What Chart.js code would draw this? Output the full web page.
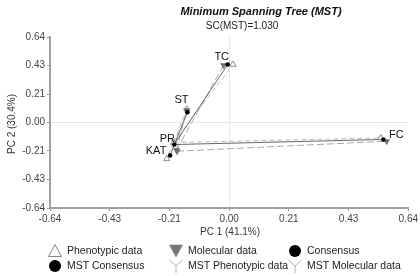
<!DOCTYPE html>
<html lang="en">
<head>
<meta charset="UTF-8">
<title>MST</title>
<script src="https://cdn.jsdelivr.net/npm/chart.js"></script>
<style>
    body { margin: 0; background: #fff; font-family: "Liberation Sans", Arial, sans-serif; }
    .wrap { position: relative; width: 420px; height: 276px; }
    canvas { position: absolute; left: 0; top: 0; }
    .leg { position: absolute; font-size: 10.5px; color: #222; line-height: 13px; white-space: nowrap; }
    #legenda svg { position: absolute; }
</style>
</head>
<body>
<div class="wrap">
    <canvas id="grafico" width="420" height="276"></canvas>
    <div id="legenda"></div>
</div>

<script>
    // traits
    const categorias = ['TC', 'ST', 'PR', 'KAT', 'FC'];

    const fenotipicoX = [0.014, -0.151, -0.199, -0.223, 0.542];
    const fenotipicoY = [0.434, 0.100, -0.150, -0.272, -0.115];

    const molecularX = [-0.020, -0.152, -0.188, -0.186, 0.563];
    const molecularY = [0.429, 0.092, -0.206, -0.215, -0.140];

    const consensoX = [-0.005, -0.149, -0.196, -0.211, 0.551];
    const consensoY = [0.434, 0.077, -0.165, -0.247, -0.127];

    // arestas das arvores (indices em categorias)
    const mstConsenso = [[2, 0], [2, 1], [2, 4], [2, 3]];
    const mstFenotipico = [[2, 0], [2, 1], [2, 4], [2, 3]];
    const mstMolecular = [[2, 0], [2, 1], [3, 4], [3, 2]];

    const tickValores = [-0.64, -0.4267, -0.2133, 0, 0.2133, 0.4267, 0.64];
    const tickLabels = ['-0.64', '-0.43', '-0.21', '0.00', '0.21', '0.43', '0.64'];

    // deslocamento dos rotulos em pixels (estilo)
    const rotuloDesloc = [[-6, -8], [-6, -12], [-7, -6], [-14, -5], [13, -4]];

    function pontos(xs, ys) {
        return xs.map((x, i) => ({ x: x, y: ys[i] }));
    }

    function segmentos(xs, ys, arestas) {
        let out = [];
        arestas.forEach(a => {
            out.push({ x: xs[a[0]], y: ys[a[0]] });
            out.push({ x: xs[a[1]], y: ys[a[1]] });
            out.push({ x: null, y: null });
        });
        return out;
    }

    const FONTE = '"Liberation Sans", Arial, sans-serif';

    const textos = {
        id: 'textos',
        afterDraw(chart) {
            const c = chart.ctx;
            const xs = chart.scales.x, ys = chart.scales.y;
            c.save();
            c.fillStyle = '#111';
            c.textAlign = 'center';
            c.textBaseline = 'middle';
            c.font = 'italic bold 11px ' + FONTE;
            c.fillText('Minimum Spanning Tree (MST)', 261, 12);
            c.font = '10px ' + FONTE;
            c.fillStyle = '#222';
            c.fillText('SC(MST)=1.030', 242, 26);
            c.fillStyle = '#333';
            c.fillText('PC 1 (41.1%)', 230, 232);
            c.save();
            c.translate(12, 124);
            c.rotate(-Math.PI / 2);
            c.fillText('PC 2 (30.4%)', 0, 0);
            c.restore();

            c.font = '11px ' + FONTE;
            c.fillStyle = '#111';
            categorias.forEach((nome, i) => {
                const px = xs.getPixelForValue(consensoX[i]) + rotuloDesloc[i][0];
                const py = ys.getPixelForValue(consensoY[i]) + rotuloDesloc[i][1];
                c.fillText(nome, px, py);
            });
            c.restore();
        }
    };

    const eixo = {
        type: 'linear',
        min: -0.64,
        max: 0.64,
        afterBuildTicks: s => { s.ticks = tickValores.map(v => ({ value: v })); },
        ticks: {
            color: '#444',
            font: { size: 10, family: FONTE },
            padding: 2,
            autoSkip: false,
            maxRotation: 0,
            callback: (v, i) => tickLabels[i]
        },
        grid: {
            color: ctx => (ctx.tick && ctx.tick.value === 0) ? '#e8e8e8' : 'rgba(0,0,0,0)',
            tickColor: '#999',
            tickLength: 3,
            drawOnChartArea: true
        },
        border: { display: true, color: '#a0a0a0', width: 2 }
    };

    new Chart(document.getElementById('grafico'), {
        type: 'scatter',
        data: {
            datasets: [
                {
                    label: 'Consensus',
                    data: pontos(consensoX, consensoY),
                    pointStyle: 'circle',
                    pointRadius: 2.3,
                    backgroundColor: '#000',
                    borderColor: '#000',
                    borderWidth: 0,
                    order: 0
                },
                {
                    label: 'Molecular data',
                    data: pontos(molecularX, molecularY),
                    pointStyle: 'triangle',
                    rotation: 180,
                    pointRadius: 3.5,
                    backgroundColor: '#6e6e6e',
                    borderColor: '#6e6e6e',
                    borderWidth: 0.5,
                    order: 1
                },
                {
                    label: 'Phenotypic data',
                    data: pontos(fenotipicoX, fenotipicoY),
                    pointStyle: 'triangle',
                    pointRadius: 3.5,
                    backgroundColor: '#fff',
                    borderColor: '#777',
                    borderWidth: 0.8,
                    order: 2
                },
                {
                    label: 'MST Consensus',
                    data: segmentos(consensoX, consensoY, mstConsenso),
                    showLine: true,
                    spanGaps: false,
                    pointRadius: 0,
                    borderColor: '#666',
                    borderWidth: 1,
                    order: 3
                },
                {
                    label: 'MST Phenotypic data',
                    data: segmentos(fenotipicoX, fenotipicoY, mstFenotipico),
                    showLine: true,
                    spanGaps: false,
                    pointRadius: 0,
                    borderColor: '#bdbdbd',
                    borderWidth: 1,
                    borderDash: [5, 3],
                    order: 4
                },
                {
                    label: 'MST Molecular data',
                    data: segmentos(molecularX, molecularY, mstMolecular),
                    showLine: true,
                    spanGaps: false,
                    pointRadius: 0,
                    borderColor: '#a8a8a8',
                    borderWidth: 1,
                    borderDash: [7, 3],
                    order: 5
                }
            ]
        },
        options: {
            responsive: false,
            animation: false,
            layout: { padding: { top: 37, right: 10, left: 0, bottom: 0 } },
            plugins: {
                legend: { display: false },
                tooltip: { enabled: false },
                title: { display: false }
            },
            scales: {
                x: Object.assign({}, eixo, { position: 'bottom', afterFit: s => { s.height = 68; } }),
                y: Object.assign({}, eixo, { position: 'left', afterFit: s => { s.width = 50; } })
            }
        },
        plugins: [textos]
    });

    // legenda em html
    const itensLegenda = [
        ['Phenotypic data', 'tri', 55, 251],
        ['Molecular data', 'trid', 176, 251],
        ['Consensus', 'circ', 295, 251],
        ['MST Consensus', 'circ', 55, 266],
        ['MST Phenotypic data', 'y', 176, 266],
        ['MST Molecular data', 'y', 295, 266]
    ];

    const icones = {
        tri: '<polygon points="7,0.5 13.5,12.5 0.5,12.5" fill="#fff" stroke="#666" stroke-width="0.8"/>',
        trid: '<polygon points="0.5,1 13.5,1 7,13" fill="#777" stroke="#777" stroke-width="0.5"/>',
        circ: '<circle cx="7" cy="7" r="6" fill="#000"/>',
        y: '<polyline points="0.5,1 7,7 13.5,1" fill="none" stroke="#999" stroke-width="0.8"/><line x1="7" y1="7" x2="7" y2="14" stroke="#999" stroke-width="0.8"/>'
    };

    let html = '';
    itensLegenda.forEach(it => {
        html += '<svg width="14" height="14" style="left:' + (it[2] - 7) + 'px;top:' + (it[3] - 7) + 'px">' + icones[it[1]] + '</svg>';
        html += '<div class="leg" style="left:' + (it[2] + 12) + 'px;top:' + (it[3] - 7) + 'px">' + it[0] + '</div>';
    });
    legenda.innerHTML = html;
</script>
</body>
</html>
